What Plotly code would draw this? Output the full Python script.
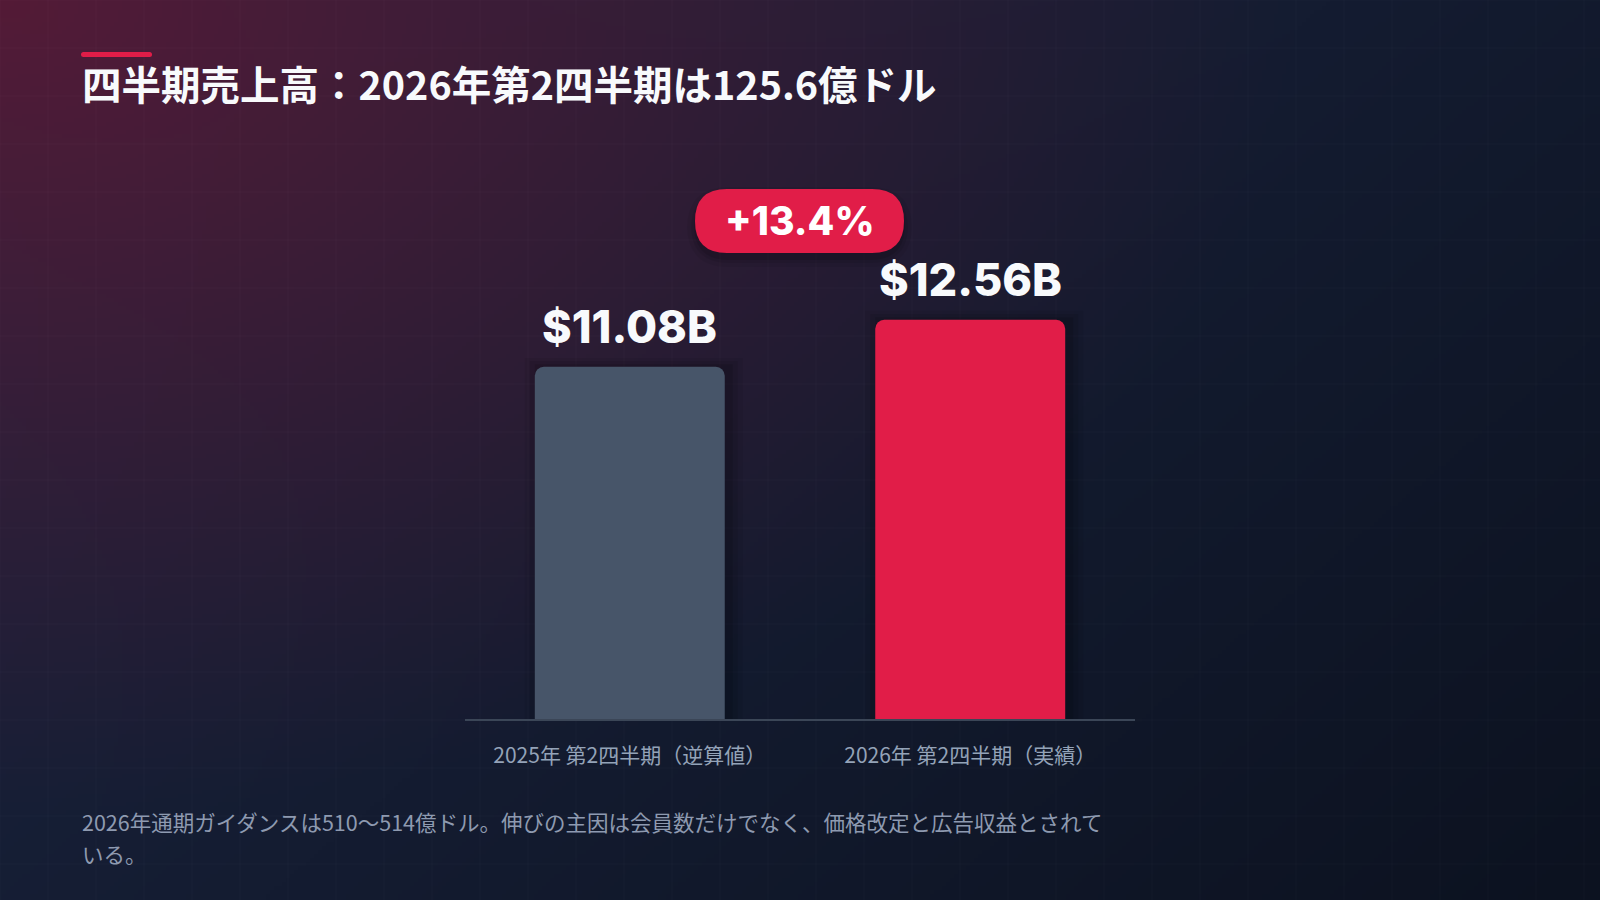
import base64
import struct
import zlib

import numpy as np
import plotly.graph_objects as go

# data
categories = ["2025年 第2四半期（逆算値）", "2026年 第2四半期（実績）"]
revenue_b = [11.08, 12.56]
bar_colors = ["#475569", "#e11d48"]

title_text = "四半期売上高：2026年第2四半期は125.6億ドル"
note_lines = [
    "2026年通期ガイダンスは510〜514億ドル。伸びの主因は会員数だけでなく、価格改定と広告収益とされて",
    "いる。",
]

W, H = 1600, 900
CJK = "Noto Sans CJK JP"
NUM = "Inter"


def px_x(x):
    return x / W


def px_y(y):
    return 1 - y / H


def png_uri(rgb):
    h, w, _ = rgb.shape
    raw = b"".join(b"\x00" + rgb[i].tobytes() for i in range(h))

    def chunk(t, d):
        c = struct.pack(">I", len(d)) + t + d
        return c + struct.pack(">I", zlib.crc32(t + d) & 0xFFFFFFFF)

    png = (b"\x89PNG\r\n\x1a\n"
           + chunk(b"IHDR", struct.pack(">IIBBBBB", w, h, 8, 2, 0, 0, 0))
           + chunk(b"IDAT", zlib.compress(raw, 9))
           + chunk(b"IEND", b""))
    return "data:image/png;base64," + base64.b64encode(png).decode()


# background: navy diagonal gradient with a crimson glow in the top-left
bw, bh = 400, 225
yy, xx = np.mgrid[0:bh, 0:bw].astype(float)
xs, ys = xx / (bw - 1) * W, yy / (bh - 1) * H
t = np.clip((xs / W * 0.6 + ys / H * 0.4), 0, 1)[..., None]
top = np.array([28, 38, 66], float)
bot = np.array([12, 18, 32], float)
base = top * (1 - t) + bot * t
d = np.sqrt((xs / 1300) ** 2 + (ys / 820) ** 2)
a = (0.62 * np.clip(1 - d, 0, 1) ** 1.05)[..., None]
glow = np.array([118, 20, 48], float)
bg = np.clip(base * (1 - a) + glow * a, 0, 255).astype(np.uint8)

rr = lambda x0, y0, x1, y1, r: (
    f"M {px_x(x0 + r)} {px_y(y0)} L {px_x(x1 - r)} {px_y(y0)} "
    f"Q {px_x(x1)} {px_y(y0)} {px_x(x1)} {px_y(y0 + r)} "
    f"L {px_x(x1)} {px_y(y1 - r)} Q {px_x(x1)} {px_y(y1)} {px_x(x1 - r)} {px_y(y1)} "
    f"L {px_x(x0 + r)} {px_y(y1)} Q {px_x(x0)} {px_y(y1)} {px_x(x0)} {px_y(y1 - r)} "
    f"L {px_x(x0)} {px_y(y0 + r)} Q {px_x(x0)} {px_y(y0)} {px_x(x0 + r)} {px_y(y0)} Z"
)

shapes = []
# faint grid
for gx in range(0, W + 1, 48):
    shapes.append(dict(type="line", xref="paper", yref="paper", x0=px_x(gx), x1=px_x(gx),
                       y0=0, y1=1, line=dict(color="rgba(255,255,255,0.028)", width=1), layer="below"))
for gy in range(0, H + 1, 48):
    shapes.append(dict(type="line", xref="paper", yref="paper", x0=0, x1=1,
                       y0=px_y(gy), y1=px_y(gy), line=dict(color="rgba(255,255,255,0.028)", width=1), layer="below"))

# soft shadows behind the bars
for i, v in enumerate(revenue_b):
    for k, alpha in [(14, 0.06), (9, 0.08), (4, 0.10)]:
        shapes.append(dict(type="rect", xref="x", yref="y", xsizemode="pixel", xanchor=i,
                           x0=-95 - k + 4, x1=95 + k + 4, y0=0, y1=v + k * 0.02,
                           fillcolor=f"rgba(0,0,0,{alpha})", line=dict(width=0), layer="below"))

# accent bar above the title
shapes.append(dict(type="path", xref="paper", yref="paper", path=rr(81, 52, 152, 57, 2.5),
                   fillcolor="#e11d48", line=dict(width=0)))

# growth badge
bx0, by0, bx1, by1 = 695, 189, 904, 253
for k, alpha in [(10, 0.06), (6, 0.08), (3, 0.10)]:
    shapes.append(dict(type="path", xref="paper", yref="paper",
                       path=rr(bx0 - k + 2, by0 - k + 8, bx1 + k - 2, by1 + k + 4, 32 + k),
                       fillcolor=f"rgba(0,0,0,{alpha})", line=dict(width=0)))
shapes.append(dict(type="path", xref="paper", yref="paper", path=rr(bx0, by0, bx1, by1, 32),
                   fillcolor="#e11d48", line=dict(width=0)))

growth = (revenue_b[1] / revenue_b[0] - 1) * 100

fig = go.Figure(go.Bar(
    x=categories, y=revenue_b, width=0.558,
    marker=dict(color=bar_colors, cornerradius=9, line=dict(width=0)),
    hoverinfo="skip",
))

annotations = [
    dict(text=title_text, xref="paper", yref="paper", x=px_x(80), y=px_y(83),
         xanchor="left", yanchor="middle", showarrow=False,
         font=dict(family=CJK, size=39.5, color="#f8fafc", weight="bold")),
    dict(text=f"+{growth:.1f}%", xref="paper", yref="paper", x=px_x((bx0 + bx1) / 2),
         y=px_y((by0 + by1) / 2), xanchor="center", yanchor="middle", showarrow=False,
         font=dict(family=NUM, size=39, color="#ffffff", weight=800)),
]
for i, v in enumerate(revenue_b):
    annotations.append(dict(text=f"${v:.2f}B", x=categories[i], y=v, xref="x", yref="y",
                            xanchor="center", yanchor="bottom", yshift=11, showarrow=False,
                            font=dict(family=NUM, size=45, color="#f8fafc", weight=800)))
for j, line in enumerate(note_lines):
    annotations.append(dict(text=line, xref="paper", yref="paper", x=px_x(80), y=px_y(821 + 32 * j),
                            xanchor="left", yanchor="middle", showarrow=False,
                            font=dict(family=CJK, size=21.5, color="#8e9ab0")))

fig.update_layout(
    width=W, height=H, margin=dict(l=0, r=0, t=0, b=0),
    paper_bgcolor="#121a2e", plot_bgcolor="rgba(0,0,0,0)",
    showlegend=False, shapes=shapes, annotations=annotations,
    font=dict(family=CJK),
    images=[dict(source=png_uri(bg), xref="paper", yref="paper", x=0, y=1, sizex=1, sizey=1,
                 sizing="stretch", xanchor="left", yanchor="top", layer="below")],
    xaxis=dict(domain=[px_x(465), px_x(1135)], range=[-0.484, 1.484], showgrid=False, zeroline=False,
               showline=True, linecolor="#3b4657", linewidth=2, ticks="",
               tickfont=dict(family=CJK, size=21, color="#94a3b8"), ticklabelstandoff=17,
               fixedrange=True),
    yaxis=dict(domain=[px_y(719), px_y(274)], range=[0, 14], visible=False, showgrid=False,
               zeroline=False, fixedrange=True),
)

fig.write_html("out.html", config={"displayModeBar": False},
               post_script="document.body.style.margin='0';document.body.style.overflow='hidden';")
